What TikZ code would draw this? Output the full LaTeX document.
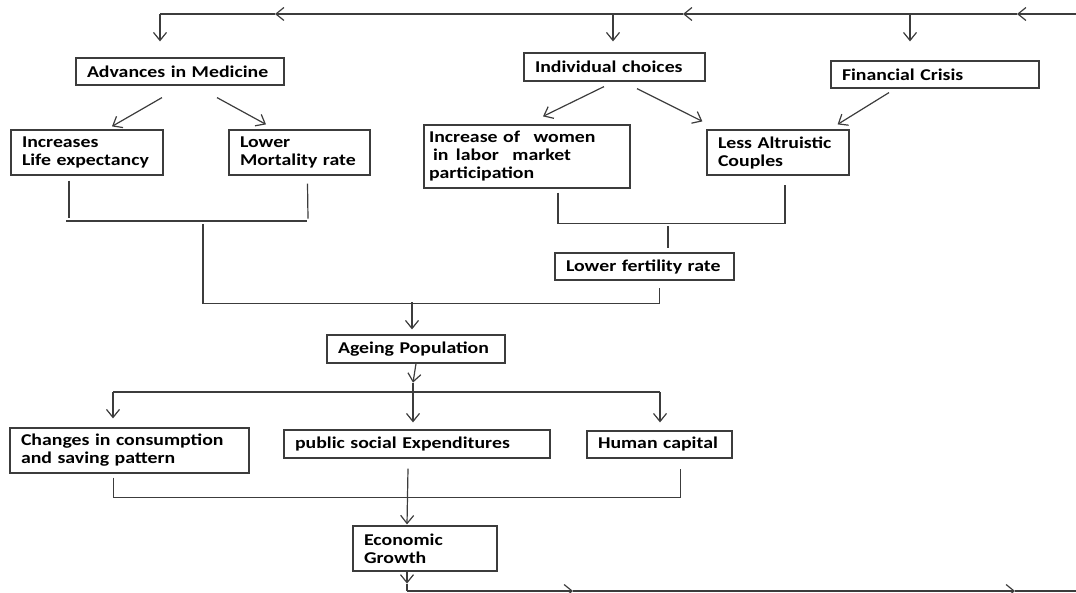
\documentclass[tikz,border=0pt]{standalone}
\usepackage{fontspec}
\setmainfont{Carlito}[FakeStretch=1.2]
\usepackage{tikz}
\usetikzlibrary{calc,arrows.meta}
\definecolor{line}{HTML}{3C3C3C}
\tikzstyle{box}=[draw=line,line width=1.2pt,inner xsep=11pt,inner ysep=0pt,align=left,font=\fontsize{16.5}{18}\bfseries\selectfont]
\tikzstyle{arr}=[line width=1.2pt,draw=line,-{Straight Barb[length=8pt,width=13pt]}]
\tikzstyle{ln}=[line width=1.2pt,draw=line]

\begin{document}
\begin{tikzpicture}[x=1pt,y=-1pt]
\useasboundingbox (0,0) rectangle (1076,593);

\node[box,text width=186,minimum height=27] (adv) at (180,71.5) {Advances in Medicine};
\node[box,text width=130,minimum height=45] (life) at (87,152.5) {Increases\\Life expectancy};
\node[box,text width=119,minimum height=45] (mort) at (299.5,152.5) {Lower\\Mortality rate};
\node[box,text width=159,minimum height=28] (indiv) at (614.5,67) {Individual choices};
\node[box,text width=186,minimum height=27] (fin) at (935,74.5) {Financial Crisis};
\node[box,text width=196,inner xsep=5pt,minimum height=63] (women) at (527,156.5) {Increase of\hspace{8pt} women\\\hspace*{4pt}in\hspace{2pt} labor\hspace{8pt} market\\participation};
\node[box,text width=120,minimum height=45] (alt) at (778,152.5) {Less Altruistic\\Couples};
\node[box,text width=157,minimum height=27] (fert) at (644.5,266.5) {Lower fertility rate};
\node[box,text width=156,minimum height=28] (age) at (416,349) {Ageing Population};
\node[box,text width=217,minimum height=45] (cons) at (129.5,450.5) {Changes in consumption\\and saving pattern};
\node[box,text width=244,minimum height=28] (pub) at (417,444) {public social Expenditures};
\node[box,text width=123,minimum height=27] (hum) at (659.5,444.5) {Human capital};
\node[box,text width=122,minimum height=45] (eco) at (425,548.5) {Economic\\Growth};

% feedback loop, top
\coordinate (tr) at (1076,14);
\coordinate (t1) at (1017,14);
\coordinate (t2) at (683,14);
\coordinate (t3) at (275,14);
\coordinate (tl) at (160,14);
\coordinate (ti) at (613,14);
\coordinate (tf) at (910,14);
\draw[arr] (tr) -- (t1);
\draw[arr] (t1) -- (t2);
\draw[arr] (t2) -- (t3);
\draw[ln] (t3) -- (tl);
\draw[arr] (tl) -- ($(adv.north)+(-20,-16)$);
\draw[arr] (ti) -- ($(indiv.north)+(-1.5,-11)$);
\draw[arr] (tf) -- ($(fin.north)+(-25,-19)$);

\draw[arr] ($(adv.south)+(-18,12)$) -- ($(life.north)+(25,-3)$);
\draw[arr] ($(adv.south)+(37,12)$) -- ($(mort.north)+(-33.5,-5)$);
\draw[arr] ($(indiv.south)+(-10.5,5)$) -- ($(women.north)+(16,-8)$);
\draw[arr] ($(indiv.south)+(22.5,7)$) -- ($(alt.north west)+(-4,-8)$);
\draw[arr] ($(fin.south)+(-46,4)$) -- ($(alt.north east)+(-12,-5)$);

% brackets
\coordinate (lb1) at (66,221);
\coordinate (lb2) at (307,221);
\draw[ln] ($(life.south)+(-18,5)$) -- ($(life.south)+(-18,42)$);
\draw[ln] ($(mort.south)+(8,8)$) -- ($(mort.south)+(8.5,43)$);
\draw[ln] (lb1) -- (lb2);
\draw[ln] ($(women.south)+(31,4)$) |- ($(alt.south)+(7,48)$) -- ($(alt.south)+(7,9)$);
\draw[ln] ($(fert.north)+(23.5,-26)$) -- ($(fert.north)+(23.5,-4)$);
\coordinate (lj) at (203,224);
\draw[ln] (lj) |- ($(fert.south)+(15,23)$) -- ($(fert.south)+(15,7)$);
\draw[arr] ($(age.north)+(-4,-32)$) -- ($(age.north)+(-4,-5)$);

% ageing effects
\coordinate (dl) at (113,392);
\coordinate (dr) at (660,392);
\draw[ln] (dl) -- (dr);
\draw[arr] (age.south) -- ($(age.south)+(-3,19)$);
\draw[arr] ($(age.south)+(-3,19)$) -- ($(pub.north)+(-4,-7)$);
\draw[arr] (dl) -- ($(cons.north)+(-16.5,-9)$);
\draw[arr] (dr) -- ($(hum.north)+(0.5,-8)$);
\draw[ln] ($(cons.south)+(-16,4)$) |- ($(hum.south)+(21,39)$) -- ($(hum.south)+(21,10)$);
\draw[arr] ($(pub.south)+(-9,10)$) -- ($(eco.north)+(-18,-1)$);

% feedback loop, bottom
\coordinate (b0) at (407,591);
\coordinate (b1) at (573,591);
\coordinate (b2) at (1015,591);
\coordinate (br) at (1076,591);
\draw[arr] ($(eco.south)+(-18,0)$) -- ($(eco.south)+(-18,12)$);
\draw[ln] ($(eco.south)+(-18,12)$) -- (b0);
\draw[arr] (b0) -- (b1);
\draw[arr] (b1) -- (b2);
\draw[ln] (b2) -- (br);

\end{tikzpicture}
\end{document}
